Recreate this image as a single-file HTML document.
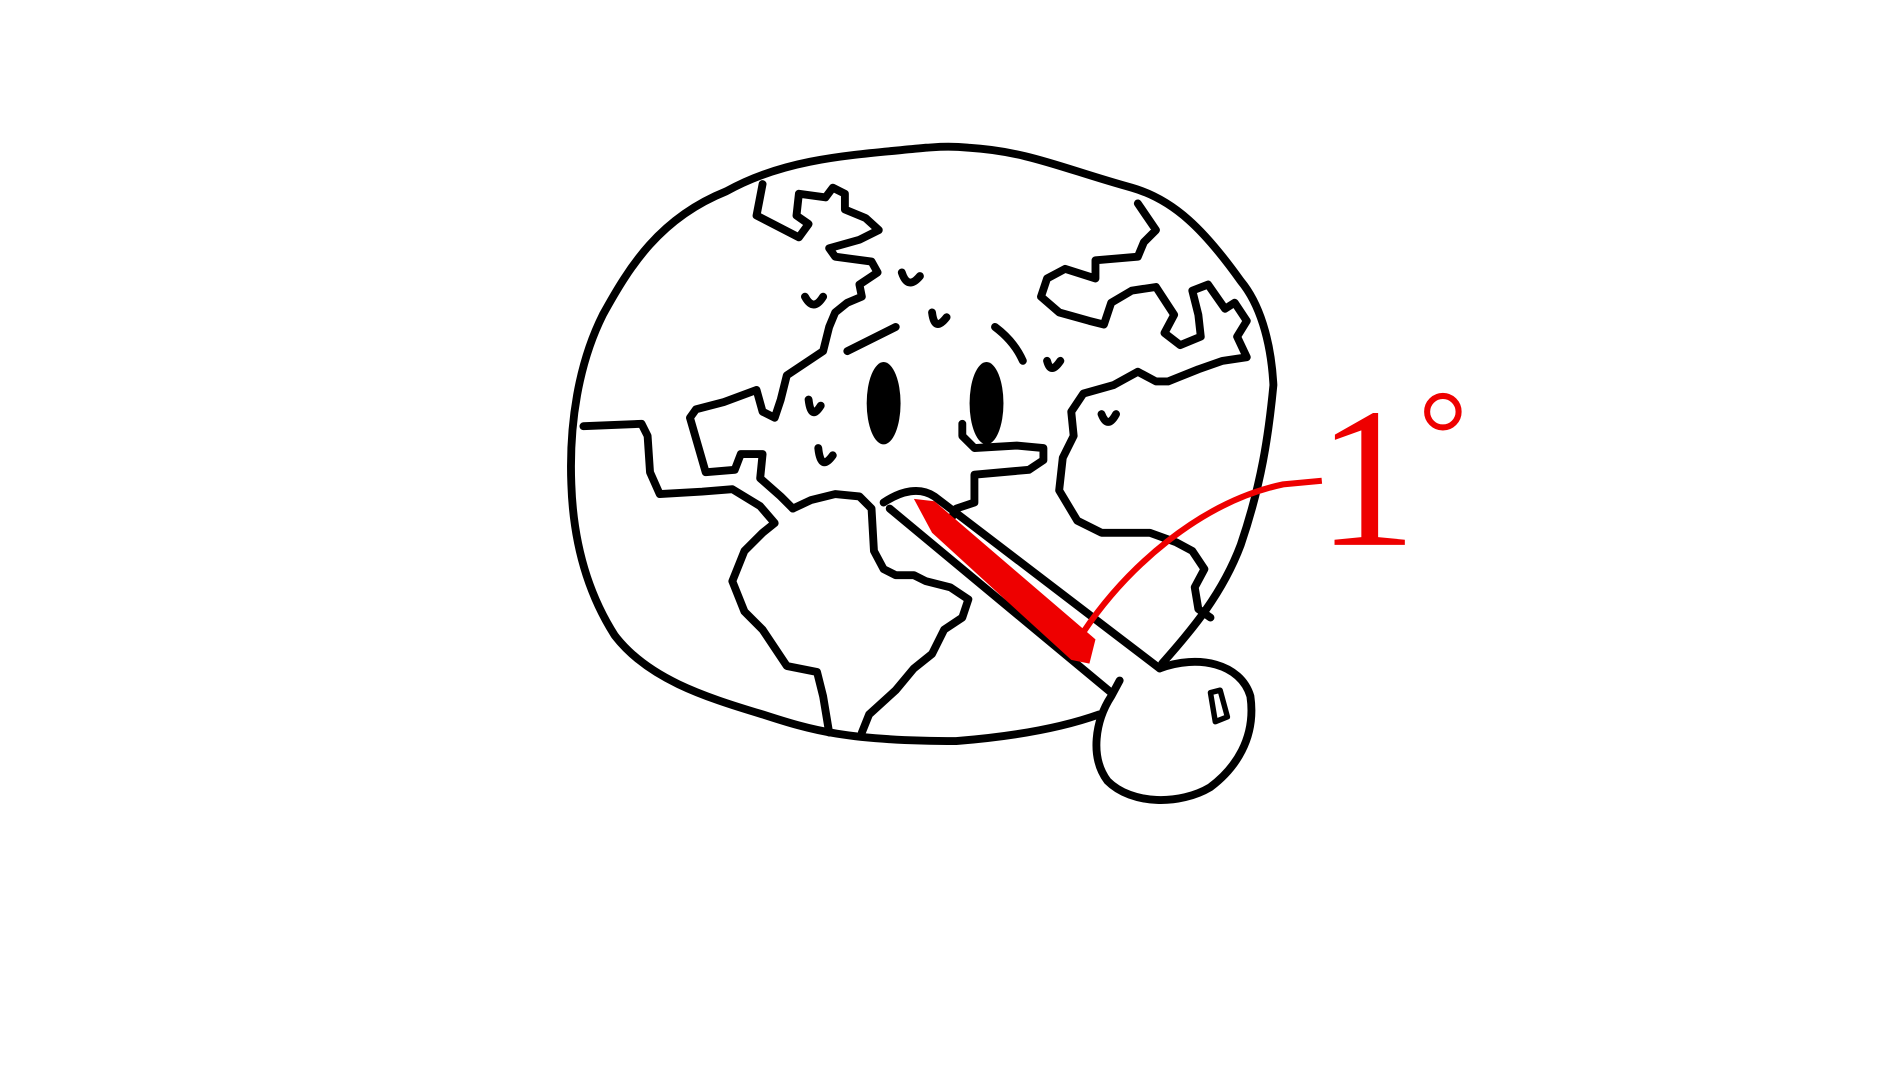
<!DOCTYPE html>
<html><head><meta charset="utf-8"><style>
html,body{margin:0;padding:0;background:#fff;width:1898px;height:1068px;overflow:hidden}
svg{display:block}
</style></head><body>
<svg width="1898" height="1068" viewBox="0 0 1568 882" preserveAspectRatio="none">
<rect width="1568" height="882" fill="#fff"/>
<g fill="none" stroke="#000" stroke-width="6.5" stroke-linejoin="round" stroke-linecap="round">
<path d="M908,590 C880,600 840,608 790,612 C700,612 670,603 630,590 C580,575 535,560 508,525 C492,500 474,460 472,400 C470,350 478,300 498,260 C520,220 545,180 600,158 C650,130 705,128 765,122 C770,122 780,120 800,122 C850,125 880,140 935,155 C970,165 995,190 1025,232 C1040,250 1050,280 1052,318 C1048,360 1042,400 1025,450 C1010,490 985,520 960,548"/>
<path d="M630,152 L625,178 L660,196 L668,185 L658,178 L660,160 L682,163 L688,155 L698,160 L698,173 L715,180 L726,190 L710,198 L685,205 L690,212 L720,216 L725,225 L710,235 L712,245 L700,250 L690,258 L685,270 L680,290 L665,300 L650,310 L645,330 L640,345 L630,340 L625,322 L598,332 L575,338 L570,345 L583,390 L607,388 L612,375 L630,375 L628,395 L645,410 L655,420"/>
<path d="M482,352 L530,350 L535,360 L537,390 L545,408 L580,406 L605,404 L628,418 L640,432 L630,440 L615,455 L605,480 L615,505 L630,520 L650,550 L675,555 L680,575 L685,605 M712,605 L718,590 L740,570 L755,552 L770,540 L780,520 L795,510 L800,495 L785,485 L765,480 L755,475 L740,475 L730,470 L722,455 L720,420 L710,410 L690,408 L670,413 L655,420"/>
<path d="M940,168 L955,190 L945,200 L940,212 L905,215 L905,230 L880,222 L865,230 L860,245 L875,258 L900,265 L912,268 L918,250 L935,240 L955,237 L970,260 L962,275 L975,285 L992,278 L990,260 L985,240 L998,235 L1012,255 L1020,250 L1030,265 L1022,278 L1030,295 L1010,298 L990,305 L965,315 L955,315 L940,307 L920,318 L895,325 L885,340 L887,360 L878,378 L875,405 L890,430 L910,440 L950,440 L972,448 L985,455 L995,470 L987,485 L990,503 L1000,510"/>
<path d="M780,440 L790,420 L805,415 L805,392 L850,388 L862,380 L862,370 L840,368 L805,370 L795,360 L795,350"/>
<path d="M665,245 Q672,258 680,245 M745,225 Q750,240 760,228 M770,258 Q772,275 782,262 M668,330 Q670,348 678,335 M676,370 Q678,390 688,376 M865,298 Q868,310 876,298 M910,342 Q915,355 922,342 M700,290 L740,270 M822,270 Q838,282 845,298"/>
<path d="M730,415 C745,405 760,402 772,410 L958,552 M918,572 L735,420"/>
<path d="M958,552 C990,540 1025,548 1033,575 C1038,610 1020,635 1000,650 C975,665 935,665 915,645 C900,625 905,595 918,575 L925,562"/>
<path d="M1000,572 L1008,570 L1014,592 L1004,596 Z" stroke-width="4.5"/>
</g>
<ellipse cx="730" cy="333" rx="14" ry="34" fill="#000"/>
<ellipse cx="815" cy="333" rx="14" ry="34" fill="#000"/>
<path d="M755,412 L772,414 L905,528 L900,548 L885,545 L770,440 Z" fill="#e00"/>
<path d="M895,522 C930,470 990,415 1060,400 L1092,397" fill="none" stroke="#e00" stroke-width="5"/>
<text x="1088" y="450" fill="#e00" font-family="Liberation Serif, serif" font-size="165">1</text>
<circle cx="1192" cy="340" r="13" fill="none" stroke="#e00" stroke-width="5"/>
</svg>
</body></html>
